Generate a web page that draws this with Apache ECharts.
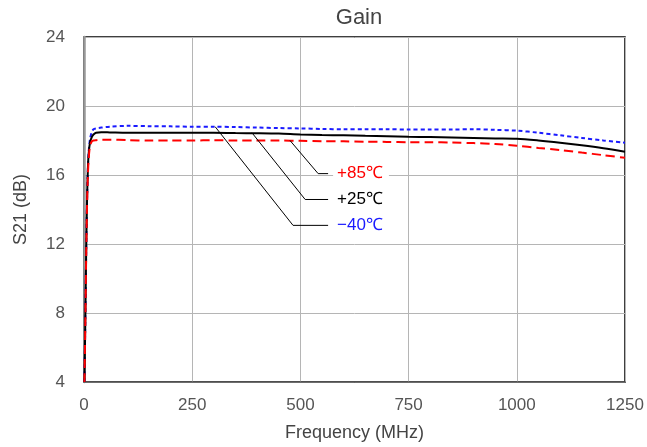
<!DOCTYPE html>
<html>
<head>
<meta charset="utf-8">
<script src="https://cdn.jsdelivr.net/npm/echarts@6/dist/echarts.min.js"></script>
<style>
  html, body { margin: 0; padding: 0; background: #fff; }
  #chart { width: 647px; height: 447px; }
</style>
</head>
<body>
<div id="chart"></div>
<script>
// frequency points (MHz)
var freq = [1, 3, 5, 7, 9, 11, 14, 18, 22, 28, 40, 60, 100, 150, 200, 250, 300, 350, 400, 450, 500,
  550, 600, 650, 700, 750, 800, 850, 900, 950, 1000, 1050, 1100, 1150, 1200, 1250];

// S21 (dB) readings per temperature
var gainN40 = [4.0, 7.5, 11.5, 14.5, 16.4, 17.4, 18.1, 18.5, 18.65, 18.7, 18.75, 18.8, 18.85, 18.83, 18.82, 18.8,
  18.8, 18.78, 18.75, 18.72, 18.7, 18.67, 18.65, 18.65, 18.65, 18.64, 18.64, 18.64, 18.65, 18.62, 18.57,
  18.45, 18.3, 18.15, 18.0, 17.87];
var gain25 = [4.0, 7.5, 11.5, 14.5, 16.4, 17.3, 17.9, 18.2, 18.35, 18.45, 18.48, 18.47, 18.45, 18.45, 18.45, 18.45,
  18.45, 18.43, 18.42, 18.4, 18.35, 18.32, 18.3, 18.27, 18.25, 18.22, 18.2, 18.18, 18.15, 18.12, 18.1,
  18.0, 17.87, 17.72, 17.55, 17.35];
var gain85 = [4.0, 7.3, 11.2, 14.2, 16.0, 17.0, 17.7, 17.95, 18.0, 18.02, 18.05, 18.05, 18.02, 18.0, 18.0, 18.0,
  18.02, 18.0, 18.0, 18.0, 17.98, 17.96, 17.95, 17.93, 17.92, 17.9, 17.9, 17.88, 17.85, 17.8, 17.7,
  17.57, 17.45, 17.3, 17.15, 17.0];

var xTicks = [0, 250, 500, 750, 1000, 1250];
var yTicks = [4, 8, 12, 16, 20, 24];

// leader lines: [curve point, elbow, end] in data units, plus label
var leaders = [
  { name: '+85℃', color: '#ff0000', pts: [[476, 18.0], [541, 16.08], [564, 16.08]] },
  { name: '+25℃', color: '#000000', pts: [[388, 18.45], [511, 14.58], [564, 14.58]] },
  { name: '−40℃', color: '#1a1aff', pts: [[303, 18.8], [483, 13.08], [564, 13.08]] }
];

function pairs(xs, ys) {
  return xs.map(function (x, i) { return [x, ys[i]]; });
}

var font = 'Helvetica, "Liberation Sans", Arial, sans-serif';

var series = [
  { name: '-40', type: 'line', data: pairs(freq, gainN40), symbol: 'none', smooth: 0.3,
    lineStyle: { color: '#1a1aff', width: 2, type: [4, 3] }, z: 3 },
  { name: '+25', type: 'line', data: pairs(freq, gain25), symbol: 'none', smooth: 0.3,
    lineStyle: { color: '#000', width: 2 }, z: 4 },
  { name: '+85', type: 'line', data: pairs(freq, gain85), symbol: 'none', smooth: 0.3,
    lineStyle: { color: '#ff0000', width: 2, type: [9, 5] }, z: 5 }
];

leaders.forEach(function (l) {
  series.push({
    type: 'line', data: l.pts, symbol: 'none', silent: true, z: 6,
    lineStyle: { color: '#000', width: 1 },
    endLabel: {
      show: true, formatter: l.name, color: l.color, fontSize: 17, fontFamily: font,
      backgroundColor: '#fff', padding: [1, 6, 1, 4], distance: 5
    }
  });
});

var chart = echarts.init(document.getElementById('chart'));
chart.setOption({
  animation: false,
  title: {
    text: 'Gain', left: 354, top: 2, textAlign: 'center',
    textStyle: { fontSize: 22, fontWeight: 'normal', color: '#444', fontFamily: font }
  },
  grid: { left: 84, right: 22, top: 37, bottom: 64, show: true, borderColor: '#000', borderWidth: 1.5 },
  xAxis: {
    type: 'value', min: 0, max: 1250, interval: 250,
    name: 'Frequency (MHz)', nameLocation: 'middle', nameGap: 42,
    nameTextStyle: { fontSize: 18, color: '#444', fontFamily: font },
    axisLine: { lineStyle: { color: '#555', width: 1.5 } },
    axisTick: { show: false },
    axisLabel: { fontSize: 17, color: '#555', margin: 15, fontFamily: font,
      formatter: function (v) { return xTicks.indexOf(v) >= 0 ? v : ''; } },
    splitLine: { lineStyle: { color: '#b5b5b5', width: 1 } }
  },
  yAxis: {
    type: 'value', min: 4, max: 24, interval: 4,
    name: 'S21 (dB)', nameLocation: 'middle', nameGap: 54, nameRotate: 90,
    nameTextStyle: { fontSize: 18, color: '#444', fontFamily: font },
    axisLine: { lineStyle: { color: '#999', width: 2.5 } },
    axisTick: { show: false },
    axisLabel: { fontSize: 17, color: '#555', margin: 19, fontFamily: font,
      formatter: function (v) { return yTicks.indexOf(v) >= 0 ? v : ''; } },
    splitLine: { lineStyle: { color: '#b5b5b5', width: 1 } }
  },
  series: series
});
</script>
</body>
</html>
